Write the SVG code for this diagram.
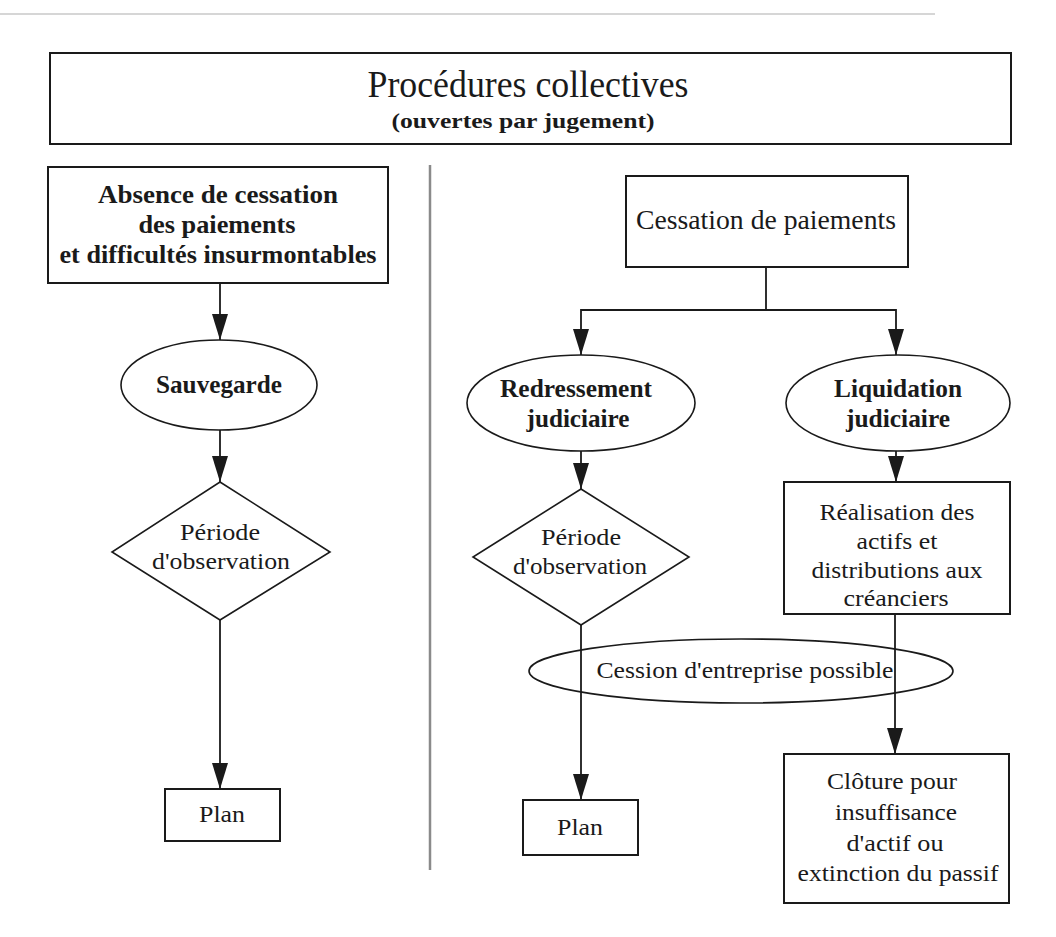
<svg xmlns="http://www.w3.org/2000/svg" width="1056" height="937" viewBox="0 0 1056 937">
<style>
  .box{fill:#fff;stroke:#1a1a1a;stroke-width:2}
  .shape{fill:none;stroke:#1a1a1a;stroke-width:1.6}
  .t{font-family:"Liberation Serif","Times New Roman",serif;fill:#1a1a1a;text-anchor:middle;font-size:24px}
  .b{font-weight:bold;font-size:25px}
  .title{font-size:37px}
  .sub{font-size:22px;font-weight:bold}
  .big{font-size:27px}
  .conn{fill:none;stroke:#1a1a1a;stroke-width:1.8}
</style>
<defs>
  <marker id="arr" markerUnits="userSpaceOnUse" markerWidth="27" markerHeight="18" viewBox="0 -9 27 18" refX="26" refY="0" orient="auto">
    <path d="M0,-8 L26,0 L0,8 z" fill="#1a1a1a"/>
  </marker>
</defs>
<rect width="1056" height="937" fill="#fff"/>
<line x1="0" y1="14" x2="935" y2="14" stroke="#c8c8c8" stroke-width="1.5"/>

<g id="title">
  <rect class="box" x="50" y="53" width="961" height="91"/>
  <text class="t title" x="528" y="97" textLength="321" lengthAdjust="spacingAndGlyphs">Procédures collectives</text>
  <text class="t sub" x="523" y="128" textLength="263" lengthAdjust="spacingAndGlyphs">(ouvertes par jugement)</text>
</g>

<line id="divider" x1="430" y1="165" x2="430" y2="870" stroke="#8a8a8a" stroke-width="2.5"/>

<g id="connectors">
  <line class="conn" x1="220" y1="283" x2="220" y2="340" marker-end="url(#arr)"/>
  <line class="conn" x1="220" y1="430" x2="220" y2="482" marker-end="url(#arr)"/>
  <line class="conn" x1="220" y1="620" x2="220" y2="789" marker-end="url(#arr)"/>
  <polyline class="conn" points="766,267 766,310 581,310 581,355" marker-end="url(#arr)"/>
  <polyline class="conn" points="766,310 896,310 896,355" marker-end="url(#arr)"/>
  <line class="conn" x1="581" y1="451" x2="581" y2="489" marker-end="url(#arr)"/>
  <line class="conn" x1="896" y1="451" x2="896" y2="482" marker-end="url(#arr)"/>
  <line class="conn" x1="581" y1="625" x2="581" y2="800" marker-end="url(#arr)"/>
  <line class="conn" x1="895" y1="614" x2="895" y2="754" marker-end="url(#arr)"/>
</g>

<g id="absence">
  <rect class="box" x="48" y="167" width="340" height="116"/>
  <text class="t b" x="218" y="203" textLength="240" lengthAdjust="spacingAndGlyphs">Absence de cessation</text>
  <text class="t b" x="217" y="233" textLength="157" lengthAdjust="spacingAndGlyphs">des paiements</text>
  <text class="t b" x="218" y="263" textLength="317" lengthAdjust="spacingAndGlyphs">et difficultés insurmontables</text>
</g>

<g id="sauvegarde">
  <ellipse class="shape" cx="219" cy="385" rx="98" ry="45"/>
  <text class="t b" x="219" y="393" textLength="126" lengthAdjust="spacingAndGlyphs">Sauvegarde</text>
</g>

<g id="periode-left">
  <polygon class="shape" points="220,482 330,552 220,620 112,552"/>
  <text class="t" x="220" y="540" textLength="80" lengthAdjust="spacingAndGlyphs">Période</text>
  <text class="t" x="221" y="569" textLength="138" lengthAdjust="spacingAndGlyphs">d'observation</text>
</g>

<g id="plan-left">
  <rect class="box" x="165" y="789" width="115" height="52"/>
  <text class="t" x="222" y="822" textLength="46" lengthAdjust="spacingAndGlyphs">Plan</text>
</g>

<g id="cessation">
  <rect class="box" x="626" y="176" width="282" height="91"/>
  <text class="t big" x="766" y="229" textLength="260" lengthAdjust="spacingAndGlyphs">Cessation de paiements</text>
</g>

<g id="redressement">
  <ellipse class="shape" cx="581" cy="403" rx="114" ry="48"/>
  <text class="t b" x="576" y="397" textLength="152" lengthAdjust="spacingAndGlyphs">Redressement</text>
  <text class="t b" x="578" y="427" textLength="103" lengthAdjust="spacingAndGlyphs">judiciaire</text>
</g>

<g id="liquidation">
  <ellipse class="shape" cx="898" cy="403" rx="112" ry="48"/>
  <text class="t b" x="898" y="397" textLength="128" lengthAdjust="spacingAndGlyphs">Liquidation</text>
  <text class="t b" x="898" y="427" textLength="104" lengthAdjust="spacingAndGlyphs">judiciaire</text>
</g>

<g id="periode-right">
  <polygon class="shape" points="581,489 689,557 581,625 473,557"/>
  <text class="t" x="581" y="545" textLength="80" lengthAdjust="spacingAndGlyphs">Période</text>
  <text class="t" x="580" y="574" textLength="134" lengthAdjust="spacingAndGlyphs">d'observation</text>
</g>

<g id="realisation">
  <rect class="box" x="784" y="482" width="226" height="132"/>
  <text class="t" x="897" y="520" textLength="155" lengthAdjust="spacingAndGlyphs">Réalisation des</text>
  <text class="t" x="897" y="549" textLength="81" lengthAdjust="spacingAndGlyphs">actifs et</text>
  <text class="t" x="897" y="578" textLength="171" lengthAdjust="spacingAndGlyphs">distributions aux</text>
  <text class="t" x="896" y="606" textLength="105" lengthAdjust="spacingAndGlyphs">créanciers</text>
</g>

<g id="cession">
  <ellipse class="shape" cx="741" cy="671" rx="212" ry="32"/>
  <text class="t" x="745" y="678" textLength="297" lengthAdjust="spacingAndGlyphs">Cession d'entreprise possible</text>
</g>

<g id="plan-right">
  <rect class="box" x="523" y="800" width="115" height="55"/>
  <text class="t" x="580" y="835" textLength="46" lengthAdjust="spacingAndGlyphs">Plan</text>
</g>

<g id="cloture">
  <rect class="box" x="784" y="754" width="225" height="149"/>
  <text class="t" x="892" y="789" textLength="130" lengthAdjust="spacingAndGlyphs">Clôture pour</text>
  <text class="t" x="896" y="820" textLength="122" lengthAdjust="spacingAndGlyphs">insuffisance</text>
  <text class="t" x="895" y="851" textLength="97" lengthAdjust="spacingAndGlyphs">d'actif ou</text>
  <text class="t" x="898" y="881" textLength="201" lengthAdjust="spacingAndGlyphs">extinction du passif</text>
</g>
</svg>
